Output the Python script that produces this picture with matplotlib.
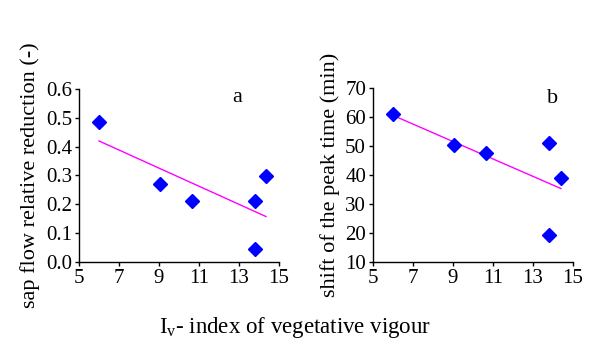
import matplotlib
matplotlib.use("Agg")
import matplotlib.pyplot as plt
import numpy as np

plt.rcParams["font.family"] = ["Liberation Serif", "DejaVu Serif"]
plt.rcParams["mathtext.fontset"] = "custom"
plt.rcParams["mathtext.rm"] = "Liberation Serif"

# vigour index for each tree
iv_a = [6.0, 9.05, 10.65, 13.8, 13.8, 14.35]
sap_reduction = [0.487, 0.27, 0.213, 0.213, 0.045, 0.297]

iv_b = [6.0, 9.05, 10.65, 13.8, 13.8, 14.4]
peak_shift = [61.0, 50.5, 47.5, 51.0, 19.3, 38.8]

x_ticks = [5, 7, 9, 11, 13, 15]
ya_ticks = [0.0, 0.1, 0.2, 0.3, 0.4, 0.5, 0.6]
yb_ticks = [10, 20, 30, 40, 50, 60, 70]

fig = plt.figure(figsize=(5.92, 3.47), dpi=100)
ax_a = fig.add_axes((0.1334, 0.245, 0.3378, 0.4986))
ax_b = fig.add_axes((0.630, 0.245, 0.3378, 0.5015))


def draw_panel(ax, xs, ys, yticks, ylabel, tag, tag_xy, yfmt):
    xs = np.array(xs)
    ys = np.array(ys)
    k, b = np.polyfit(xs, ys, 1)
    xl = np.array([xs.min(), xs.max()])
    ax.plot(xl, k * xl + b, color="#FF00FF", lw=1.0, zorder=2)
    ax.plot(xs, ys, "D", color="#0000FF", ms=7, mec="#0000FF", zorder=3)
    ax.set_xlim(5, 15)
    ax.set_ylim(yticks[0], yticks[-1])
    ax.set_xticks(x_ticks)
    ax.set_yticks(yticks)
    ax.set_yticklabels([yfmt.format(v) for v in yticks])
    ax.spines["top"].set_visible(False)
    ax.spines["right"].set_visible(False)
    for s in ("left", "bottom"):
        ax.spines[s].set_linewidth(1.0)
    ax.tick_params(direction="out", length=3, width=1, labelsize=15, pad=2)
    ax.set_ylabel(ylabel, fontsize=16, labelpad=4)
    ax.text(tag_xy[0], tag_xy[1], tag, fontsize=16, ha="center", va="center")


draw_panel(ax_a, iv_a, sap_reduction, ya_ticks,
           "sap flow relative reduction (-)", "a", (12.9, 0.57), "{:.1f}")
draw_panel(ax_b, iv_b, peak_shift, yb_ticks,
           "shift of the peak time (min)", "b", (14.0, 66.5), "{:d}")

fig.text(0.498, 0.056, r"$\mathregular{I_v}$- index of vegetative vigour",
         fontsize=16.5, ha="center", va="center")

fig.savefig("out.png", dpi=100)
